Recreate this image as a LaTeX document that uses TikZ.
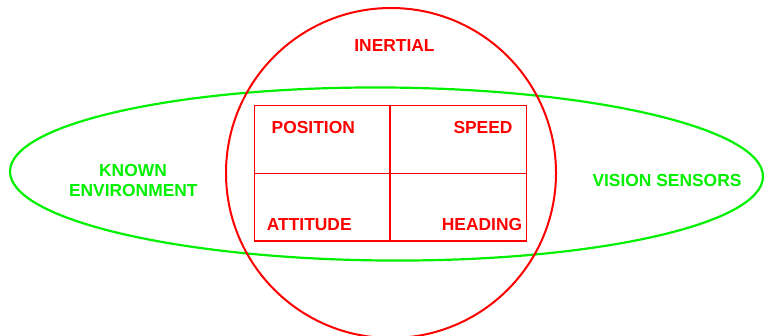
\documentclass[tikz,border=0pt]{standalone}
\usepackage{fontspec}
\setmainfont{Liberation Sans}
\definecolor{myred}{RGB}{255,0,0}
\definecolor{mygreen}{RGB}{0,240,0}
\begin{document}
\begin{tikzpicture}[x=1bp,y=-1bp,
  lbl/.style={inner sep=0pt,font=\fontsize{17.4bp}{20.7bp}\selectfont\bfseries},
  redlbl/.style={lbl,text=myred},
  greenlbl/.style={lbl,text=mygreen}]
\useasboundingbox (0,0) rectangle (764,335);
% ellipse (vision / known environment)
\draw[mygreen,line width=2.2bp,rotate around={-0.4:(386.5,174)}] (386.5,174) ellipse [x radius=376.5bp, y radius=86.5bp];
% circle (inertial)
\draw[myred,line width=2bp] (391,173) circle [radius=165bp];
% grid
\coordinate (tl) at (254.5,105.5);
\coordinate (br) at (526.5,241);
\draw[myred,line width=1.3bp] (tl) rectangle (br);
\draw[myred,line width=1.3bp] (390,105.5) -- (390,241);
\draw[myred,line width=1.3bp] (254.5,173.5) -- (526.5,173.5);
% labels
\node[redlbl,anchor=base] (inertial) at (394.5,51) {INERTIAL};
\node[redlbl,anchor=base west] (position) at (271.5,133.3) {POSITION};
\node[redlbl,anchor=base east] (speed) at (512.7,133.3) {SPEED};
\node[redlbl,anchor=base west] (attitude) at (266.7,230) {ATTITUDE};
\node[redlbl,anchor=base east] (heading) at (522.3,230) {HEADING};
\node[greenlbl,anchor=base] (vision) at (667,186) {VISION SENSORS};
\node[greenlbl,anchor=base] (known) at (133,176) {KNOWN};
\node[greenlbl,anchor=base] (env) at (133.3,196.7) {ENVIRONMENT};
\end{tikzpicture}
\end{document}
